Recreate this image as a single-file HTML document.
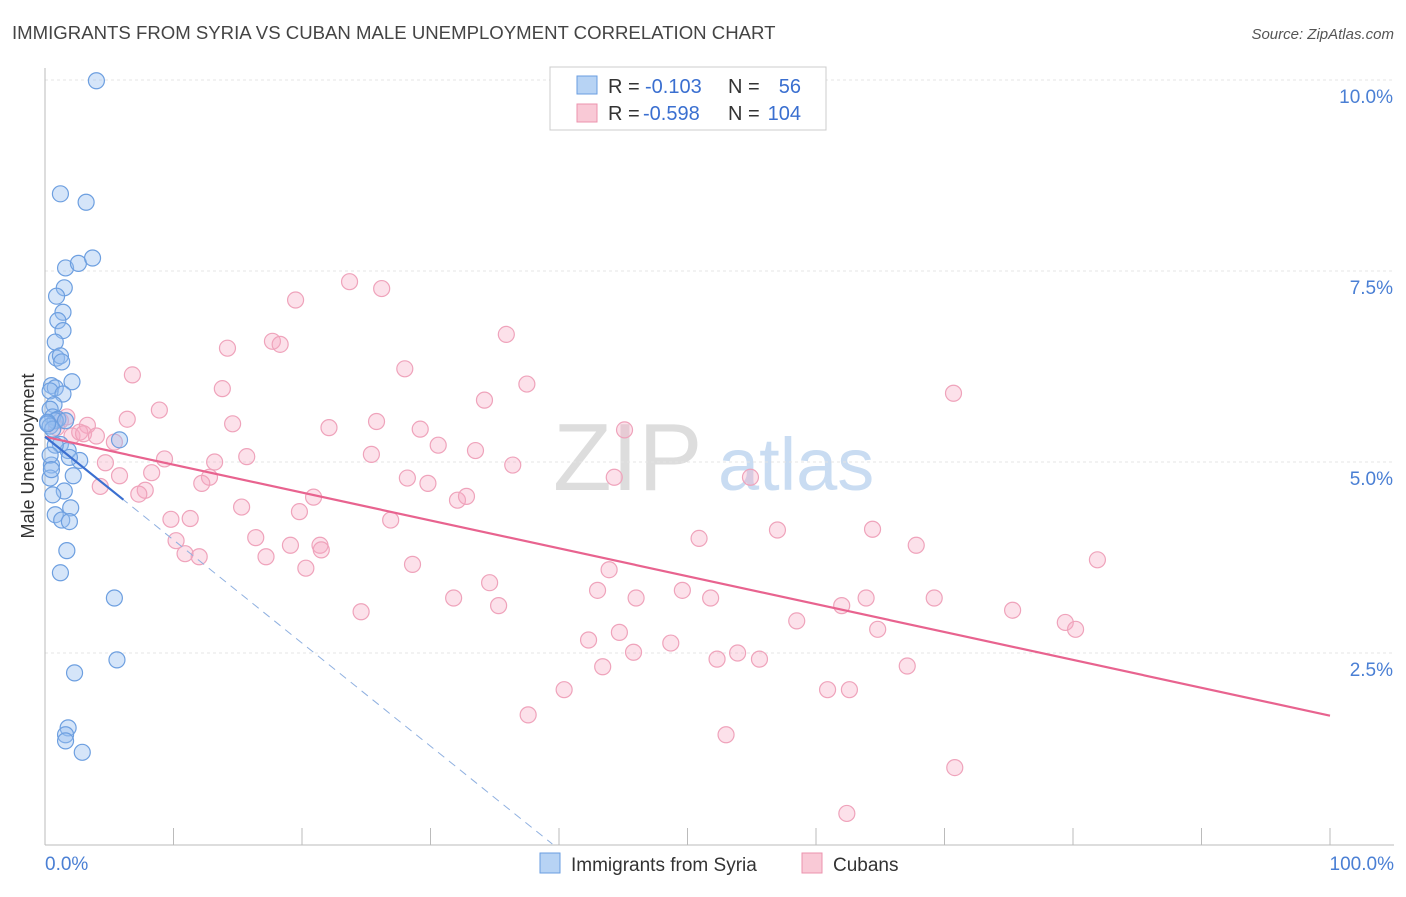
<!DOCTYPE html>
<html><head><meta charset="utf-8"><style>
body{margin:0;background:#fff;font-family:"Liberation Sans",sans-serif}
svg text{font-family:"Liberation Sans",sans-serif}
</style></head><body>
<svg id="chart" width="1406" height="892" xmlns="http://www.w3.org/2000/svg">
<text x="12" y="39" font-size="18.6" fill="#444">IMMIGRANTS FROM SYRIA VS CUBAN MALE UNEMPLOYMENT CORRELATION CHART</text>
<text x="1394" y="39" font-size="15" fill="#555" text-anchor="end" font-style="italic">Source: ZipAtlas.com</text>
<g><text x="553" y="490" font-size="96" fill="#ddd" font-family="Liberation Serif">ZIP</text><text x="718" y="490" font-size="74" fill="#c9dcf2">atlas</text></g>
<g id="grid"></g><g id="axes"></g><g id="marks"></g>
<text transform="translate(34,456) rotate(-90)" font-size="18" fill="#333" text-anchor="middle">Male Unemployment</text>
<g>
<rect x="550" y="67" width="276" height="63" fill="#fff" stroke="#ccc"/>
<rect x="577" y="76" width="20" height="18" fill="#b7d3f4" stroke="#6a9ee0"/>
<rect x="577" y="104" width="20" height="18" fill="#f9c9d6" stroke="#ec93ae"/>
<text x="608" y="93" font-size="20" fill="#333">R =</text>
<text x="645" y="93" font-size="20" fill="#3a6fd0">-0.103</text>
<text x="728" y="93" font-size="20" fill="#333">N =</text>
<text x="801" y="93" font-size="20" fill="#3a6fd0" text-anchor="end">56</text>
<text x="608" y="120" font-size="20" fill="#333">R =</text>
<text x="643" y="120" font-size="20" fill="#3a6fd0">-0.598</text>
<text x="728" y="120" font-size="20" fill="#333">N =</text>
<text x="801" y="120" font-size="20" fill="#3a6fd0" text-anchor="end">104</text>
</g>
<g>
<rect x="540" y="853" width="20" height="20" fill="#b7d3f4" stroke="#6a9ee0"/>
<text x="571" y="871" font-size="19" fill="#333">Immigrants from Syria</text>
<rect x="802" y="853" width="20" height="20" fill="#f9c9d6" stroke="#ec93ae"/>
<text x="833" y="871" font-size="19" fill="#333">Cubans</text>
</g>
</svg>
<script>
const yTicks=[2.5,5.0,7.5,10.0];
const yTickLabels=["2.5%","5.0%","7.5%","10.0%"];
const xTickVals=[0,10,20,30,40,50,60,70,80,90,100];
const syriaX=[4.0,1.2,3.2,1.6,2.6,3.7,1.5,0.9,1.4,1.0,1.4,0.8,0.9,1.2,1.3,2.1,0.5,0.8,0.4,1.4,0.7,0.4,0.6,1.0,0.8,0.2,0.4,0.6,1.6,5.8,1.2,1.8,2.7,1.9,0.5,0.4,2.2,1.5,0.6,0.8,2.0,1.3,1.9,1.7,1.2,5.4,5.6,2.3,1.8,1.6,1.6,2.9,0.8,0.4,0.5,0.2];
const syriaY=[9.99,8.51,8.40,7.54,7.60,7.67,7.28,7.17,6.96,6.85,6.72,6.57,6.36,6.39,6.31,6.05,6.00,5.97,5.93,5.89,5.75,5.69,5.59,5.56,5.54,5.52,5.47,5.43,5.54,5.29,5.23,5.15,5.02,5.06,4.96,4.79,4.82,4.62,4.57,4.31,4.40,4.24,4.22,3.84,3.55,3.22,2.41,2.24,1.52,1.43,1.35,1.20,5.22,5.09,4.90,5.50];
const cubaX=[23.7,26.2,19.5,35.9,17.7,18.3,14.2,28.0,6.8,37.5,13.8,70.7,34.2,8.9,6.4,25.8,3.3,14.6,22.1,29.2,45.1,1.2,0.9,2.1,2.7,5.4,30.6,33.5,25.4,15.7,9.3,13.2,4.7,36.4,5.8,8.3,28.2,12.8,44.3,54.9,12.2,29.8,4.3,7.8,7.3,20.9,32.1,32.8,15.3,19.8,26.9,9.8,11.3,64.4,57.0,16.4,50.9,10.2,19.1,21.4,21.5,67.8,10.9,12.0,17.2,81.9,28.6,20.3,43.9,34.6,43.0,49.6,31.8,46.0,51.8,63.9,69.2,35.3,62.0,24.6,75.3,58.5,79.4,80.2,64.8,44.7,42.3,48.7,45.8,53.9,52.3,55.6,43.4,67.1,40.4,60.9,62.6,37.6,53.0,70.8,62.4,1.7,3.0,4.0];
const cubaY=[7.36,7.27,7.12,6.67,6.58,6.54,6.49,6.22,6.14,6.02,5.96,5.90,5.81,5.68,5.56,5.53,5.48,5.50,5.45,5.43,5.42,5.54,5.45,5.34,5.39,5.26,5.22,5.15,5.10,5.07,5.04,5.00,4.99,4.96,4.82,4.86,4.79,4.80,4.80,4.80,4.72,4.72,4.68,4.63,4.58,4.54,4.50,4.55,4.41,4.35,4.24,4.25,4.26,4.12,4.11,4.01,4.00,3.97,3.91,3.91,3.85,3.91,3.80,3.76,3.76,3.72,3.66,3.61,3.59,3.42,3.32,3.32,3.22,3.22,3.22,3.22,3.22,3.12,3.12,3.04,3.06,2.92,2.90,2.81,2.81,2.77,2.67,2.63,2.51,2.50,2.42,2.42,2.32,2.33,2.02,2.02,2.02,1.69,1.43,1.00,0.40,5.59,5.37,5.34];
const pinkTrend=[5.33,1.68];
const blueTrend=[5.33,-0.135,6.1];
const NS="http://www.w3.org/2000/svg";
const X=v=>45+v*12.85, Y=v=>844-v*76.4;
function mk(t,a,p){const e=document.createElementNS(NS,t);for(const k in a)e.setAttribute(k,a[k]);(p||document.getElementById('marks')).appendChild(e);return e;}
const grid=document.getElementById('grid'),axes=document.getElementById('axes'),marks=document.getElementById('marks');
yTicks.forEach((v,i)=>{
 const l=mk('line',{x1:45,x2:1394,y1:Y(v),y2:Y(v),stroke:'#e4e4e4','stroke-dasharray':'3,3'},grid);
 
 
 const t=mk('text',{x:1393,y:Y(v)+23,'font-size':19,fill:'#4a7fd4','text-anchor':'end'},axes);
 t.textContent=yTickLabels[i];
 
 
});
const ax=mk('line',{x1:45,x2:1394,y1:845,y2:845,stroke:'#bbb'},axes);


const ay=mk('line',{x1:45,x2:45,y1:68,y2:845,stroke:'#bbb'},axes);


xTickVals.forEach(v=>{const t=mk('line',{x1:X(v),x2:X(v),y1:828,y2:845,stroke:'#bbb'},axes);
 
 });
[[0,'0.0%','start',45],[100,'100.0%','end',1394]].forEach(d=>{const t=mk('text',{x:d[3],y:870,'font-size':19,fill:'#4a7fd4','text-anchor':d[2]},axes);t.textContent=d[1];
 
 });
cubaX.forEach((x,i)=>{const c=mk('circle',{cx:X(x),cy:Y(cubaY[i]),r:8,fill:'rgba(245,170,195,0.35)',stroke:'#efa3bb','stroke-width':1.2});
 
 });
syriaX.forEach((x,i)=>{const c=mk('circle',{cx:X(x),cy:Y(syriaY[i]),r:8,fill:'rgba(150,190,240,0.4)',stroke:'#6d9fe0','stroke-width':1.2});
 
 });
const pl=mk('line',{x1:X(0),y1:Y(pinkTrend[0]),x2:X(100),y2:Y(pinkTrend[1]),stroke:'#e8638f','stroke-width':2.2});


const xz=-blueTrend[0]/blueTrend[1];
const bd=mk('line',{x1:X(0),y1:Y(blueTrend[0]),x2:X(xz),y2:Y(0),stroke:'#8fb0e0','stroke-width':1,'stroke-dasharray':'8,6'});


const bl=mk('line',{x1:X(0),y1:Y(blueTrend[0]),x2:X(blueTrend[2]),y2:Y(blueTrend[0]+blueTrend[1]*blueTrend[2]),stroke:'#3a6fd0','stroke-width':2.2});


</script>
</body></html>
